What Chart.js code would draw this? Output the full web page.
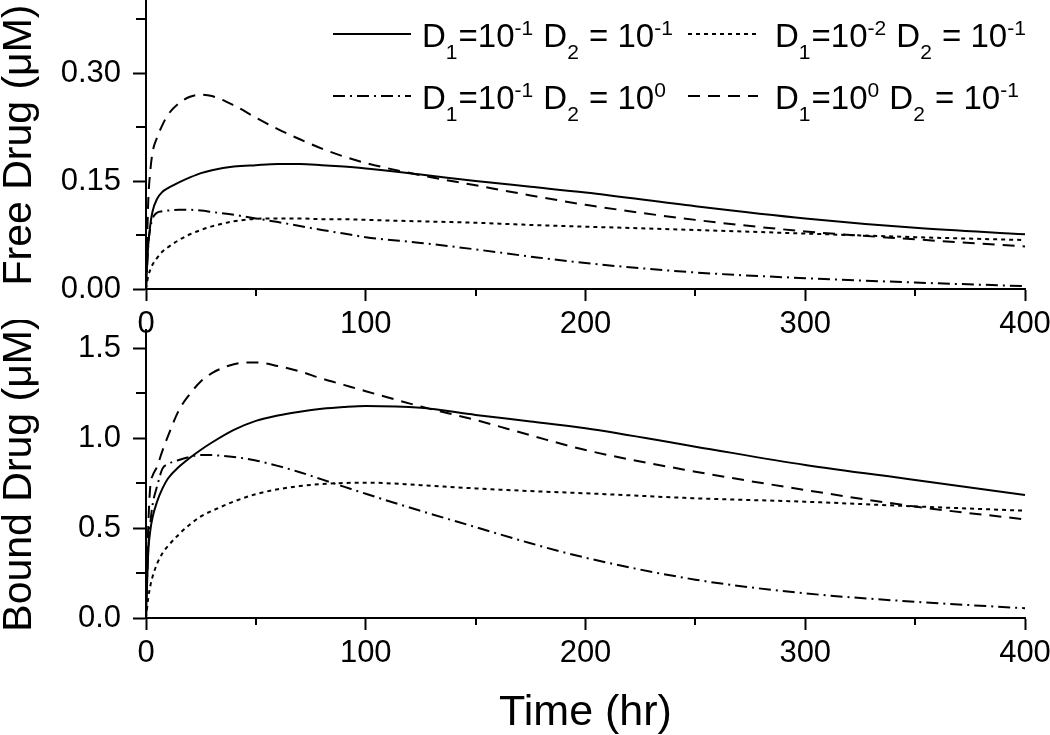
<!DOCTYPE html>
<html><head><meta charset="utf-8">
<script src="https://cdn.jsdelivr.net/npm/chart.js@4.4.1/dist/chart.umd.min.js"></script>
<style>
html,body{margin:0;padding:0;background:#fff;}
#wrap{position:relative;width:1050px;height:735px;overflow:hidden;background:#fff;}
canvas{position:absolute;left:0;}
#c1{top:0;} #c2{top:320px;}
</style></head><body>
<div id="wrap"><canvas id="c2" width="1050" height="415"></canvas><canvas id="c1" width="1050" height="340"></canvas></div>
<script>
// ---- data ----
const timeHours = [0, 1, 2, 3, 5, 7.5, 10, 15, 20, 25, 30, 40, 50, 60, 70, 80, 90, 100, 125, 150, 175, 200, 250, 300, 350, 400];

// Free drug (uM)
const freeA = [0, 0.060, 0.090, 0.108, 0.125, 0.135, 0.140, 0.148, 0.155, 0.161, 0.165, 0.170, 0.172, 0.1735, 0.1735, 0.172, 0.170, 0.1675, 0.159, 0.150, 0.142, 0.134, 0.115, 0.098, 0.085, 0.076]; // D1=1e-1 D2=1e-1
const freeB = [0, 0.018, 0.027, 0.034, 0.043, 0.052, 0.058, 0.068, 0.076, 0.082, 0.087, 0.094, 0.0975, 0.098, 0.098, 0.097, 0.097, 0.096, 0.094, 0.092, 0.089, 0.0866, 0.082, 0.077, 0.072, 0.068]; // D1=1e-2 D2=1e-1
const freeC = [0, 0.060, 0.085, 0.098, 0.106, 0.108, 0.109, 0.110, 0.110, 0.109, 0.107, 0.103, 0.098, 0.093, 0.0875, 0.082, 0.077, 0.072, 0.064, 0.055, 0.045, 0.036, 0.023, 0.015, 0.009, 0.004]; // D1=1e-1 D2=1e0
const freeD = [0, 0.120, 0.165, 0.190, 0.210, 0.228, 0.242, 0.258, 0.267, 0.270, 0.268, 0.255, 0.238, 0.222, 0.208, 0.195, 0.184, 0.175, 0.158, 0.144, 0.130, 0.117, 0.096, 0.080, 0.069, 0.059]; // D1=1e0 D2=1e-1

// Bound drug (uM)
const boundA = [0, 0.36, 0.49, 0.56, 0.645, 0.72, 0.775, 0.84, 0.89, 0.935, 0.975, 1.045, 1.095, 1.125, 1.146, 1.162, 1.172, 1.178, 1.168, 1.128, 1.092, 1.054, 0.952, 0.850, 0.767, 0.683];
const boundB = [0, 0.11, 0.18, 0.23, 0.30, 0.36, 0.40, 0.465, 0.52, 0.565, 0.595, 0.647, 0.688, 0.715, 0.733, 0.744, 0.750, 0.752, 0.738, 0.720, 0.705, 0.693, 0.665, 0.646, 0.620, 0.596];
const boundC = [0, 0.38, 0.53, 0.63, 0.73, 0.83, 0.855, 0.878, 0.895, 0.906, 0.905, 0.895, 0.875, 0.845, 0.810, 0.770, 0.730, 0.690, 0.595, 0.505, 0.415, 0.335, 0.213, 0.137, 0.090, 0.054];
const boundD = [0, 0.50, 0.74, 0.79, 0.84, 0.93, 1.01, 1.155, 1.245, 1.315, 1.36, 1.41, 1.42, 1.40, 1.37, 1.33, 1.295, 1.26, 1.175, 1.10, 1.015, 0.933, 0.813, 0.711, 0.619, 0.548];

// legend exponents
const d1Exp = ['-1', '-2', '-1', '0'];
const d2Exp = ['-1', '-1', '0', '-1'];

// ticks
const xTicks = [0, 100, 200, 300, 400];
const xMinor = [50, 150, 250, 350];
const freeTicks = [0, 0.15, 0.30];
const freeTickLabels = ['0.00', '0.15', '0.30'];
const freeMinor = [0.075, 0.225, 0.375];
const boundTicks = [0, 0.5, 1.0, 1.5];
const boundTickLabels = ['0.0', '0.5', '1.0', '1.5'];
const boundMinor = [0.25, 0.75, 1.25];

// ---- styles ----
const FONT = '"Liberation Sans", Arial, sans-serif';
const dashes = [[], [4, 4], [12, 5, 2, 5], [12, 8]];

function pts(arr) { return timeHours.map((t, i) => ({x: t, y: arr[i]})); }
function makeDatasets(list) {
  return list.map((arr, i) => ({
    data: pts(arr), borderColor: '#000', borderWidth: 2, borderDash: dashes[i],
    pointRadius: 0, fill: false, cubicInterpolationMode: 'monotone', clip: 4
  }));
}

const minorTicks = {
  id: 'minorTicks',
  afterDraw(chart, args, opts) {
    const ctx = chart.ctx, xs = chart.scales.x, ys = chart.scales.y;
    ctx.save(); ctx.strokeStyle = '#000'; ctx.lineWidth = 2;
    opts.x.forEach(v => { const p = Math.round(xs.getPixelForValue(v)); ctx.beginPath(); ctx.moveTo(p, xs.top); ctx.lineTo(p, xs.top + 7); ctx.stroke(); });
    opts.y.forEach(v => { const p = Math.round(ys.getPixelForValue(v)); ctx.beginPath(); ctx.moveTo(ys.right, p); ctx.lineTo(ys.right - 10, p); ctx.stroke(); });
    ctx.restore();
  }
};

const legendPlugin = {
  id: 'subLegend',
  afterDraw(chart, args, opts) {
    const ctx = chart.ctx;
    ctx.save();
    const cols = [{s: 333, e: 411, t: 422}, {s: 688, e: 758, t: 775}];
    const rows = [34, 96];
    const order = [0, 1, 2, 3];
    order.forEach((di, k) => {
      const c = cols[k % 2], ry = rows[Math.floor(k / 2)];
      ctx.strokeStyle = '#000'; ctx.lineWidth = 2; ctx.setLineDash(dashes[di]);
      ctx.beginPath(); ctx.moveTo(c.s, ry); ctx.lineTo(c.e, ry); ctx.stroke();
      ctx.setLineDash([]);
      const base = ry + 13;
      const segs = [['D', 0], ['1', 1], ['=10', 0], [d1Exp[di], 2], [' D', 0], ['2', 1], [' = 10', 0], [d2Exp[di], 2]];
      let x = c.t;
      ctx.fillStyle = '#000'; ctx.textBaseline = 'alphabetic'; ctx.textAlign = 'left';
      segs.forEach(([txt, kind]) => {
        ctx.font = (kind === 0 ? '33px ' : '21px ') + FONT;
        const y = kind === 0 ? base : (kind === 1 ? base + 12 : base - 12);
        ctx.fillText(txt, x, y);
        x += ctx.measureText(txt).width + (kind === 0 ? 0 : 1);
      });
    });
    ctx.restore();
  }
};

function axisX(height, title) {
  return {
    type: 'linear', min: 0, max: 400,
    afterBuildTicks: s => { s.ticks = xTicks.map(v => ({value: v})); },
    afterFit: s => { s.height = height; s.paddingLeft = 0; s.paddingRight = 0; },
    ticks: {font: {family: FONT, size: 31}, color: '#000', padding: 5, maxRotation: 0, autoSkip: false,
      callback: (v) => String(v)},
    grid: {drawOnChartArea: false, drawTicks: true, tickLength: 12, tickColor: '#000', tickWidth: 2},
    border: {color: '#000', width: 2},
    title: title ? {display: true, text: title, color: '#000', font: {family: FONT, size: 43, lineHeight: 1}, padding: 0} : {display: false}
  };
}
function axisY(max, ticks, labels, title) {
  return {
    type: 'linear', min: 0, max: max,
    afterBuildTicks: s => { s.ticks = ticks.map(v => ({value: v})); },
    afterFit: s => { s.width = 146; s.paddingTop = 0; s.paddingBottom = 0; },
    ticks: {font: {family: FONT, size: 31}, color: '#000', padding: 12, autoSkip: false,
      callback: (v, i) => labels[i]},
    grid: {drawOnChartArea: false, drawTicks: true, tickLength: 13, tickColor: '#000', tickWidth: 2},
    border: {color: '#000', width: 2},
    title: {display: true, text: title, color: '#000', font: {family: FONT, size: 41, lineHeight: 0.95}, padding: 0}
  };
}

const common = {responsive: false, animation: false, events: [],
  plugins: {legend: {display: false}, tooltip: {enabled: false}}};

new Chart(document.getElementById('c1'), {
  type: 'line',
  data: {datasets: makeDatasets([freeA, freeB, freeC, freeD])},
  options: Object.assign({}, common, {
    layout: {autoPadding: false, padding: {top: 1, right: 25, left: 0, bottom: 0}},
    scales: {x: axisX(51, null), y: axisY(0.4, freeTicks, freeTickLabels, 'Free Drug (\u03BCM)')},
    plugins: {legend: {display: false}, tooltip: {enabled: false}, minorTicks: {x: xMinor, y: freeMinor}}
  }),
  plugins: [minorTicks, legendPlugin]
});

new Chart(document.getElementById('c2'), {
  type: 'line',
  data: {datasets: makeDatasets([boundA, boundB, boundC, boundD])},
  options: Object.assign({}, common, {
    layout: {autoPadding: false, padding: {top: 10, right: 25, left: 0, bottom: 0}},
    scales: {x: axisX(117, 'Time (hr)'), y: axisY(1.6, boundTicks, boundTickLabels, 'Bound Drug (\u03BCM)')},
    plugins: {legend: {display: false}, tooltip: {enabled: false}, minorTicks: {x: xMinor, y: boundMinor}}
  }),
  plugins: [minorTicks]
});
</script>
</body></html>
